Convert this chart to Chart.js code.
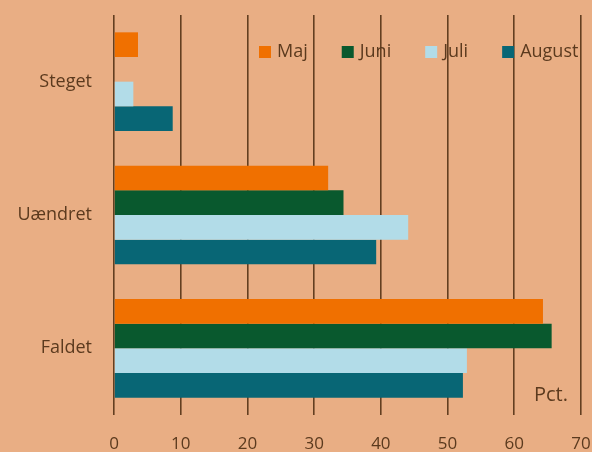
<!DOCTYPE html>
<html>
<head>
<meta charset="utf-8">
<script src="https://cdn.jsdelivr.net/npm/chart.js@4/dist/chart.umd.min.js"></script>
<style>
  html, body { margin: 0; padding: 0; background: #E9AE84; }
  #wrap { width: 592px; height: 452px; }
</style>
</head>
<body>
<div id="wrap"><canvas id="chart"></canvas></div>
<script>
// --- data ---
const categories = ['Steget', 'Uændret', 'Faldet'];
const seriesNames = ['Maj', 'Juni', 'Juli', 'August'];
const majValues = [3.6, 32.1, 64.3];
const juniValues = [0, 34.4, 65.6];
const juliValues = [2.9, 44.1, 52.9];
const augustValues = [8.8, 39.3, 52.3];
const xTicks = [0, 10, 20, 30, 40, 50, 60, 70];
const unitLabel = 'Pct.';

const colors = ['#F07000', '#09592E', '#B2DCE8', '#086675'];
const textColor = '#5B3A1E';
const gridColor = '#633F20';
const fontFamily = '"Open Sans", sans-serif';

// legend drawn inside the plot, top right
const innerLegend = {
    id: 'innerLegend',
    afterDraw(chart) {
        const ctx = chart.ctx;
        const area = chart.chartArea;
        let x = area.left + 145;
        const y = area.top + 37;
        ctx.save();
        ctx.font = '18px ' + fontFamily;
        ctx.textBaseline = 'middle';
        chart.data.datasets.forEach(ds => {
            ctx.fillStyle = ds.backgroundColor;
            ctx.fillRect(x, y - 6, 12, 12);
            ctx.fillStyle = textColor;
            ctx.fillText(ds.label, x + 18, y);
            x += 18 + ctx.measureText(ds.label).width + 34;
        });
        // unit label
        ctx.font = '20px ' + fontFamily;
        ctx.textAlign = 'right';
        ctx.textBaseline = 'alphabetic';
        ctx.fillText(unitLabel, area.right - 13, area.bottom - 14);
        ctx.restore();
    }
};

const allValues = [majValues, juniValues, juliValues, augustValues];

new Chart(document.getElementById('chart'), {
    type: 'bar',
    data: {
        labels: categories,
        datasets: seriesNames.map((name, i) => ({
            label: name,
            data: allValues[i],
            backgroundColor: colors[i],
            borderWidth: 0,
            categoryPercentage: 0.74,
            barPercentage: 1
        }))
    },
    options: {
        indexAxis: 'y',
        responsive: true,
        maintainAspectRatio: false,
        animation: false,
        layout: { padding: { top: 15, right: 11, left: 0, bottom: 0 } },
        scales: {
            x: {
                min: 0,
                max: 70,
                afterBuildTicks(scale) {
                    scale.ticks = xTicks.map(v => ({ value: v }));
                },
                afterFit(scale) {
                    scale.height = 37;
                    scale.paddingLeft = 0;
                    scale.paddingRight = 0;
                },
                grid: { color: gridColor, lineWidth: 1.6, drawTicks: false },
                border: { display: false },
                ticks: {
                    color: textColor,
                    padding: 19,
                    font: { family: fontFamily, size: 17 }
                }
            },
            y: {
                afterFit(scale) {
                    scale.width = 114;
                    scale.paddingTop = 0;
                    scale.paddingBottom = 0;
                },
                grid: { display: false },
                border: { display: false },
                ticks: {
                    color: textColor,
                    padding: 14,
                    font: { family: fontFamily, size: 18 }
                }
            }
        },
        plugins: {
            legend: { display: false },
            tooltip: { enabled: false }
        }
    },
    plugins: [innerLegend]
});
</script>
</body>
</html>
